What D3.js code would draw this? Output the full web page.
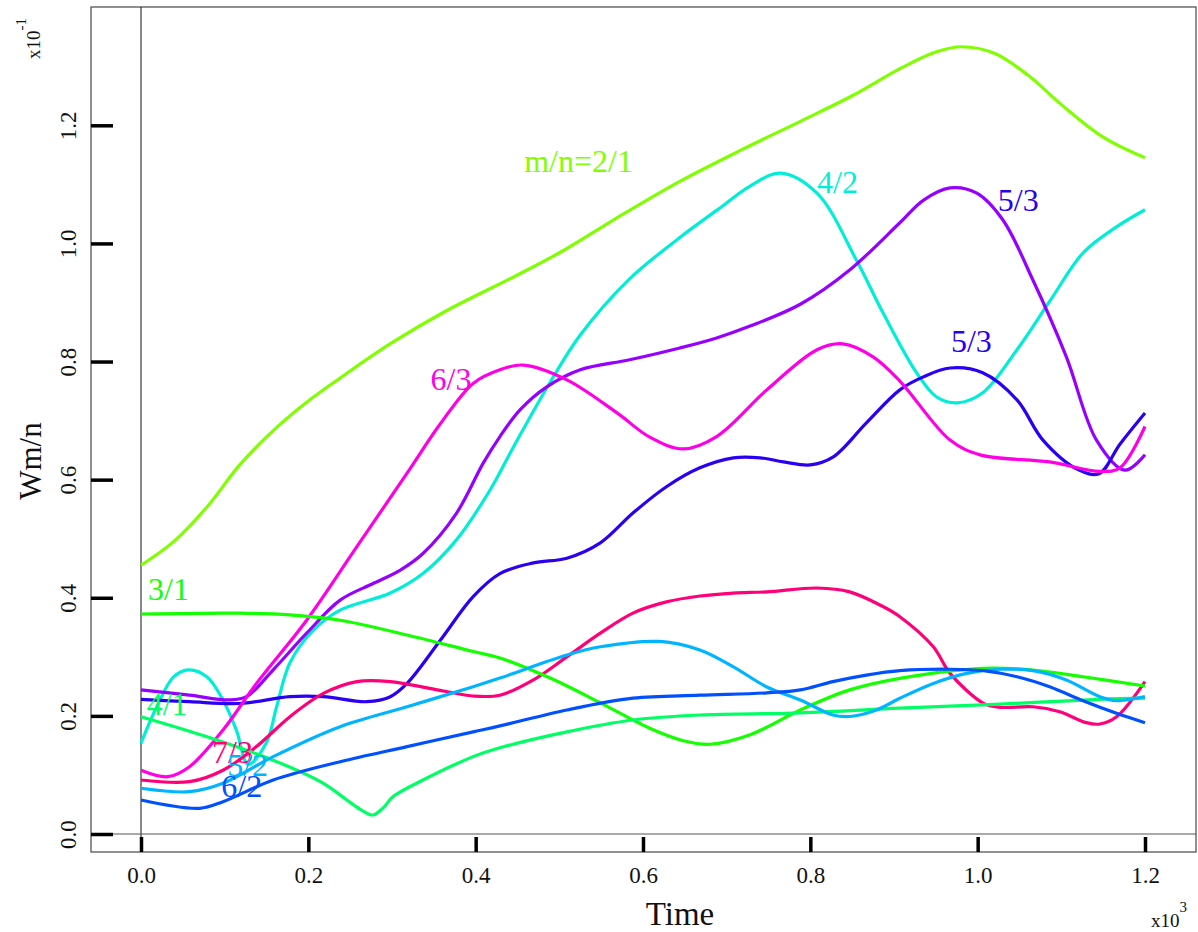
<!DOCTYPE html>
<html>
<head>
<meta charset="utf-8">
<script src="https://cdn.jsdelivr.net/npm/d3@7"></script>
<style>
  html, body { margin: 0; padding: 0; background: #ffffff; }
  svg { display: block; }
  text { font-family: "Liberation Serif", "Times New Roman", serif; }
</style>
</head>
<body>
<svg id="chart" width="1198" height="932"></svg>
<script>
// Axis ticks (time in units of 10^3, Wm/n in units of 10^-1)
const timeTicks = [0, 0.2, 0.4, 0.6, 0.8, 1.0, 1.2];
const wTicks = [0, 0.2, 0.4, 0.6, 0.8, 1.0, 1.2];

// Mode m/n = 2/1
const t21 = [0, 0.039, 0.079, 0.118, 0.158, 0.198, 0.238, 0.299, 0.365, 0.445, 0.505, 0.565, 0.644, 0.72, 0.79, 0.85, 0.91, 0.95, 0.98, 1.02, 1.06, 1.10, 1.15, 1.2];
const w21 = [0.455, 0.495, 0.554, 0.625, 0.683, 0.731, 0.772, 0.831, 0.886, 0.943, 0.988, 1.04, 1.105, 1.16, 1.208, 1.25, 1.298, 1.324, 1.333, 1.322, 1.285, 1.235, 1.18, 1.145];

// Mode 4/2
const t42 = [0, 0.019, 0.039, 0.057, 0.079, 0.098, 0.114, 0.128, 0.15, 0.162, 0.178, 0.206, 0.238, 0.298, 0.337, 0.377, 0.417, 0.445, 0.489, 0.525, 0.584, 0.644, 0.69, 0.728, 0.764, 0.808, 0.855, 0.887, 0.927, 0.951, 0.976, 1.006, 1.047, 1.087, 1.126, 1.166, 1.2];
const w42 = [0.154, 0.216, 0.266, 0.278, 0.266, 0.227, 0.176, 0.118, 0.155, 0.215, 0.29, 0.345, 0.379, 0.408, 0.441, 0.498, 0.582, 0.655, 0.765, 0.845, 0.94, 1.01, 1.058, 1.097, 1.119, 1.085, 0.972, 0.882, 0.781, 0.740, 0.730, 0.747, 0.82, 0.904, 0.984, 1.028, 1.057];

// Mode 5/3 (violet)
const t53a = [0, 0.058, 0.106, 0.126, 0.158, 0.198, 0.238, 0.278, 0.31, 0.337, 0.377, 0.409, 0.429, 0.453, 0.485, 0.525, 0.584, 0.644, 0.688, 0.728, 0.788, 0.847, 0.907, 0.935, 0.967, 0.999, 1.030, 1.066, 1.106, 1.142, 1.176, 1.2];
const w53a = [0.244, 0.235, 0.227, 0.2325, 0.278, 0.340, 0.396, 0.4245, 0.447, 0.475, 0.543, 0.628, 0.673, 0.718, 0.757, 0.786, 0.803, 0.823, 0.840, 0.86, 0.897, 0.955, 1.035, 1.073, 1.094, 1.085, 1.04, 0.938, 0.808, 0.667, 0.616, 0.642];

// Mode 5/3 (blue)
const t53b = [0, 0.058, 0.118, 0.178, 0.218, 0.27, 0.298, 0.318, 0.358, 0.397, 0.429, 0.469, 0.509, 0.549, 0.588, 0.628, 0.668, 0.708, 0.74, 0.768, 0.80, 0.827, 0.867, 0.907, 0.935, 0.967, 1.006, 1.047, 1.078, 1.12, 1.145, 1.17, 1.2];
const w53b = [0.228, 0.224, 0.221, 0.2325, 0.2325, 0.224, 0.2325, 0.255, 0.3285, 0.402, 0.441, 0.459, 0.467, 0.493, 0.5435, 0.588, 0.62, 0.637, 0.637, 0.630, 0.625, 0.638, 0.696, 0.752, 0.774, 0.789, 0.781, 0.735, 0.667, 0.617, 0.61, 0.66, 0.713];

// Mode 6/3
const t63 = [0, 0.032, 0.058, 0.098, 0.138, 0.198, 0.258, 0.318, 0.358, 0.397, 0.429, 0.457, 0.509, 0.569, 0.608, 0.648, 0.688, 0.748, 0.808, 0.839, 0.875, 0.907, 0.967, 1.003, 1.086, 1.146, 1.17, 1.2];
const w63 = [0.108, 0.097, 0.114, 0.176, 0.255, 0.362, 0.4865, 0.611, 0.695, 0.763, 0.786, 0.794, 0.769, 0.713, 0.672, 0.652, 0.673, 0.752, 0.82, 0.83, 0.808, 0.767, 0.667, 0.642, 0.63, 0.614, 0.62, 0.69];

// Mode 7/3
const t73 = [0, 0.058, 0.098, 0.138, 0.178, 0.218, 0.258, 0.298, 0.345, 0.397, 0.429, 0.469, 0.509, 0.549, 0.588, 0.628, 0.668, 0.708, 0.748, 0.808, 0.847, 0.887, 0.907, 0.947, 0.967, 1.007, 1.027, 1.066, 1.098, 1.130, 1.146, 1.166, 1.2];
const w73 = [0.0914, 0.0886, 0.108, 0.148, 0.1986, 0.238, 0.258, 0.258, 0.2467, 0.2337, 0.235, 0.261, 0.300, 0.340, 0.374, 0.393, 0.403, 0.408, 0.410, 0.4165, 0.410, 0.385, 0.368, 0.317, 0.272, 0.2213, 0.2145, 0.2155, 0.207, 0.1885, 0.1862, 0.1986, 0.258];

// Mode 3/1
const t31 = [0, 0.118, 0.178, 0.238, 0.318, 0.397, 0.429, 0.489, 0.549, 0.608, 0.648, 0.68, 0.728, 0.788, 0.847, 0.907, 1.007, 1.066, 1.126, 1.2];
const w31 = [0.3725, 0.374, 0.371, 0.362, 0.337, 0.309, 0.298, 0.264, 0.222, 0.179, 0.158, 0.152, 0.168, 0.21, 0.244, 0.2636, 0.2806, 0.2777, 0.2663, 0.2506];

// Mode 4/1
const t41 = [0, 0.078, 0.158, 0.218, 0.246, 0.264, 0.277, 0.29, 0.301, 0.337, 0.397, 0.429, 0.509, 0.588, 0.668, 0.788, 0.907, 1.027, 1.146, 1.2];
const w41 = [0.1986, 0.165, 0.125, 0.0858, 0.0576, 0.04, 0.0322, 0.045, 0.063, 0.0914, 0.131, 0.146, 0.173, 0.193, 0.2015, 0.205, 0.213, 0.22, 0.228, 0.23];

// Mode 5/2
const t52 = [0, 0.058, 0.098, 0.158, 0.238, 0.318, 0.397, 0.429, 0.509, 0.549, 0.62, 0.668, 0.708, 0.748, 0.788, 0.827, 0.847, 0.879, 0.907, 0.947, 0.987, 1.027, 1.066, 1.106, 1.146, 1.166, 1.2];
const w52 = [0.0774, 0.0716, 0.0858, 0.131, 0.1817, 0.2155, 0.2494, 0.264, 0.303, 0.317, 0.326, 0.3115, 0.283, 0.249, 0.227, 0.2015, 0.199, 0.21, 0.2298, 0.255, 0.272, 0.279, 0.2765, 0.2608, 0.2325, 0.2257, 0.2325];

// Mode 6/2
const t62 = [0, 0.07, 0.098, 0.158, 0.238, 0.318, 0.397, 0.429, 0.509, 0.588, 0.668, 0.748, 0.788, 0.827, 0.867, 0.907, 0.967, 1.007, 1.047, 1.086, 1.126, 1.166, 1.2];
const w62 = [0.0576, 0.0435, 0.0547, 0.0914, 0.1224, 0.148, 0.173, 0.183, 0.21, 0.230, 0.235, 0.239, 0.244, 0.258, 0.269, 0.2765, 0.279, 0.2765, 0.2663, 0.2494, 0.2257, 0.2044, 0.1885];

// Series table: mode label, colour, samples, label anchor (time, value)
const series = [
  { name: "m/n=2/1", color: "#80ff00", t: t21, w: w21, lt: 0.458, lw: 1.121 },
  { name: "4/2",     color: "#00eed8", t: t42, w: w42, lt: 0.808, lw: 1.085 },
  { name: "5/3",     color: "#9600ff", t: t53a, w: w53a, lt: 1.024, lw: 1.055, lc: "#2a00f0" },
  { name: "5/3",     color: "#2a00f5", t: t53b, w: w53b, lt: 0.968, lw: 0.816 },
  { name: "6/3",     color: "#ff00e6", t: t63, w: w63, lt: 0.346, lw: 0.752 },
  { name: "7/3",     color: "#ff0078", t: t73, w: w73, lt: 0.085, lw: 0.120 },
  { name: "3/1",     color: "#14ff00", t: t31, w: w31, lt: 0.0084, lw: 0.396 },
  { name: "4/1",     color: "#00ff64", t: t41, w: w41, lt: 0.0068, lw: 0.2015 },
  { name: "5/2",     color: "#00b4ff", t: t52, w: w52, lt: 0.103, lw: 0.098 },
  { name: "6/2",     color: "#0050ff", t: t62, w: w62, lt: 0.096, lw: 0.0627 }
];

const svg = d3.select("#chart");
const frame = { left: 91, top: 7, right: 1196, bottom: 852 };

const x = d3.scaleLinear().domain([0, 1.2]).range([141, 1145]);
const y = d3.scaleLinear().domain([0, 1.2]).range([834, 125.3]);

// Plot frame
svg.append("rect")
  .attr("x", frame.left).attr("y", frame.top)
  .attr("width", frame.right - frame.left).attr("height", frame.bottom - frame.top)
  .attr("fill", "none").attr("stroke", "#555").attr("stroke-width", 1.3);

// Zero lines
svg.append("line")
  .attr("x1", x(0)).attr("x2", x(0)).attr("y1", frame.top).attr("y2", frame.bottom)
  .attr("stroke", "#111").attr("stroke-width", 1);
svg.append("line")
  .attr("x1", frame.left).attr("x2", frame.right).attr("y1", y(0)).attr("y2", y(0))
  .attr("stroke", "#555").attr("stroke-width", 1);

// Y axis: ticks point inward, labels rotated
const yAxis = svg.append("g")
  .attr("transform", `translate(${frame.left},0)`)
  .call(d3.axisLeft(y).tickValues(wTicks).tickSize(-22).tickFormat(d3.format(".1f")));
yAxis.select(".domain").remove();
yAxis.selectAll(".tick line").attr("stroke", "#000").attr("stroke-width", 3.5);
yAxis.selectAll(".tick text")
  .attr("x", null).attr("dy", null)
  .attr("transform", "translate(-15,0) rotate(-90)")
  .attr("text-anchor", "middle")
  .attr("fill", "#111")
  .style("font-size", "23px")
  .style("font-family", "'Liberation Serif', 'Times New Roman', serif");

// X axis: ticks point inward from the bottom edge
const xAxis = svg.append("g")
  .attr("transform", `translate(0,${frame.bottom})`)
  .call(d3.axisBottom(x).tickValues(timeTicks).tickSize(-15).tickFormat(d3.format(".1f")));
xAxis.select(".domain").remove();
xAxis.selectAll(".tick line").attr("stroke", "#000").attr("stroke-width", 3.5);
xAxis.selectAll(".tick text")
  .attr("y", 31).attr("dy", null)
  .attr("fill", "#111")
  .style("font-size", "23px")
  .style("font-family", "'Liberation Serif', 'Times New Roman', serif");

// Curves
const line = d3.line()
  .x(d => x(d[0]))
  .y(d => y(d[1]))
  .curve(d3.curveCatmullRom.alpha(0.5));

svg.append("g").selectAll("path")
  .data(series)
  .join("path")
  .attr("d", s => line(s.t.map((t, i) => [t, s.w[i]])))
  .attr("fill", "none")
  .attr("stroke", s => s.color)
  .attr("stroke-width", 3.2)
  .attr("stroke-linejoin", "round");

// Mode labels
svg.append("g").selectAll("text")
  .data(series)
  .join("text")
  .attr("x", s => x(s.lt))
  .attr("y", s => y(s.lw))
  .attr("fill", s => s.lc || s.color)
  .style("font-size", "32px")
  .text(s => s.name);

// Axis titles and multipliers
svg.append("text")
  .attr("transform", "translate(41,461) rotate(-90)")
  .attr("text-anchor", "middle")
  .attr("fill", "#111")
  .style("font-size", "31px")
  .text("Wm/n");

svg.append("text")
  .attr("x", 680).attr("y", 925)
  .attr("text-anchor", "middle")
  .attr("fill", "#111")
  .style("font-size", "33px")
  .text("Time");

const xMul = svg.append("text")
  .attr("x", 1151).attr("y", 927)
  .attr("fill", "#111")
  .style("font-size", "19px");
xMul.append("tspan").text("x10");
xMul.append("tspan").attr("dy", -15).style("font-size", "15px").text("3");

const yMul = svg.append("text")
  .attr("transform", "translate(40,59) rotate(-90)")
  .attr("fill", "#111")
  .style("font-size", "19px");
yMul.append("tspan").text("x10");
yMul.append("tspan").attr("dy", -14).style("font-size", "15px").text("-1");
</script>
</body>
</html>
